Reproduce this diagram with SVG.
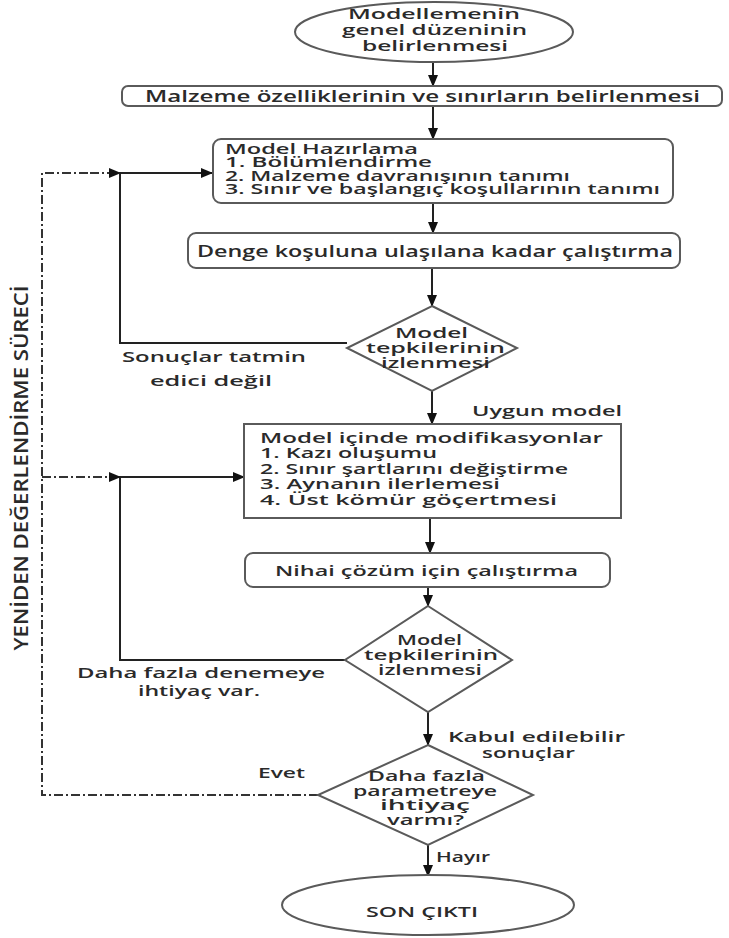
<svg xmlns="http://www.w3.org/2000/svg" width="729" height="938" viewBox="0 0 729 938">
<style>
.t{font-family:"Open Sans","DejaVu Sans",sans-serif;font-weight:600;fill:#2a2a2a;font-size:15px}
.c{text-anchor:middle}
.s14{font-size:14px}
.s16{font-size:16px}
.box{fill:#fff;stroke:#5a5a5a;stroke-width:2}
.ln{stroke:#222;stroke-width:2;fill:none}
.dd{stroke:#333;stroke-width:2;fill:none;stroke-dasharray:9 3 2 3}
</style>
<defs>
<marker id="ah" markerUnits="userSpaceOnUse" markerWidth="12" markerHeight="12" refX="11" refY="6" orient="auto">
<path d="M0,1 L12,6 L0,11 z" fill="#111"/>
</marker>
</defs>
<rect width="729" height="938" fill="#fff"/>

<g id="connectors">
<line class="ln" x1="433" y1="63" x2="433" y2="86" marker-end="url(#ah)"/>
<line class="ln" x1="433" y1="106" x2="433" y2="139" marker-end="url(#ah)"/>
<line class="ln" x1="433" y1="203" x2="433" y2="233" marker-end="url(#ah)"/>
<line class="ln" x1="432" y1="268" x2="432" y2="306" marker-end="url(#ah)"/>
<polyline class="ln" points="347,343 120,343 120,173 212,173" marker-end="url(#ah)"/>
<line class="ln" x1="432" y1="391" x2="432" y2="424" marker-end="url(#ah)"/>
<line class="ln" x1="430" y1="518" x2="430" y2="553" marker-end="url(#ah)"/>
<line class="ln" x1="428" y1="587" x2="428" y2="606" marker-end="url(#ah)"/>
<polyline class="ln" points="345,660 120,660 120,477 244,477" marker-end="url(#ah)"/>
<line class="ln" x1="428" y1="712" x2="428" y2="745" marker-end="url(#ah)"/>
<line class="ln" x1="428" y1="845" x2="428" y2="876" marker-end="url(#ah)"/>
<polyline class="dd" points="318,795 42,795 42,173 90,173"/>
<line class="dd" x1="90" y1="173" x2="120" y2="173" marker-end="url(#ah)"/>
<line class="dd" x1="42" y1="477" x2="120" y2="477" marker-end="url(#ah)"/>
</g>

<g id="n1">
<ellipse class="box" cx="434" cy="32" rx="139" ry="30"/>
<text class="t" x="348" y="19" textLength="172" lengthAdjust="spacingAndGlyphs">Modellemenin</text>
<text class="t" x="342" y="35" textLength="185" lengthAdjust="spacingAndGlyphs">genel düzeninin</text>
<text class="t" x="362" y="51" textLength="146" lengthAdjust="spacingAndGlyphs">belirlenmesi</text>
</g>

<g id="n2">
<rect class="box" x="122" y="86" width="600" height="20" rx="6"/>
<text class="t s16" x="145" y="102" textLength="555" lengthAdjust="spacingAndGlyphs">Malzeme özelliklerinin  ve sınırların belirlenmesi</text>
</g>

<g id="n3">
<rect class="box" x="213" y="139" width="460" height="64" rx="8"/>
<text class="t s14" x="225" y="154" textLength="193" lengthAdjust="spacingAndGlyphs">Model Hazırlama</text>
<text class="t s14" x="225" y="167" textLength="207" lengthAdjust="spacingAndGlyphs">1. Bölümlendirme</text>
<text class="t s14" x="225" y="181" textLength="345" lengthAdjust="spacingAndGlyphs">2. Malzeme davranışının tanımı</text>
<text class="t s14" x="225" y="194" textLength="435" lengthAdjust="spacingAndGlyphs">3. Sınır ve başlangıç koşullarının tanımı</text>
</g>

<g id="n4">
<rect class="box" x="188" y="233" width="492" height="35" rx="8"/>
<text class="t s16" x="197" y="257" textLength="476" lengthAdjust="spacingAndGlyphs">Denge koşuluna ulaşılana kadar çalıştırma</text>
</g>

<g id="n5">
<polygon class="box" points="432,306 517,348 432,391 347,348"/>
<text class="t" x="395" y="338" textLength="73" lengthAdjust="spacingAndGlyphs">Model</text>
<text class="t" x="366" y="353" textLength="139" lengthAdjust="spacingAndGlyphs">tepkilerinin</text>
<text class="t" x="381" y="368" textLength="109" lengthAdjust="spacingAndGlyphs">izlenmesi</text>
</g>

<text class="t" x="122" y="362" textLength="184" lengthAdjust="spacingAndGlyphs">Sonuçlar tatmin</text>
<text class="t" x="150" y="386" textLength="122" lengthAdjust="spacingAndGlyphs">edici değil</text>
<text class="t" x="472" y="416" textLength="150" lengthAdjust="spacingAndGlyphs">Uygun model</text>

<g id="n6">
<rect class="box" x="244" y="424" width="377" height="94"/>
<text class="t" x="260" y="443" textLength="343" lengthAdjust="spacingAndGlyphs">Model içinde modifikasyonlar</text>
<text class="t" x="260" y="458" textLength="177" lengthAdjust="spacingAndGlyphs">1. Kazı oluşumu</text>
<text class="t" x="260" y="474" textLength="308" lengthAdjust="spacingAndGlyphs">2. Sınır şartlarını değiştirme</text>
<text class="t" x="260" y="489" textLength="240" lengthAdjust="spacingAndGlyphs">3. Aynanın ilerlemesi</text>
<text class="t" x="260" y="505" textLength="297" lengthAdjust="spacingAndGlyphs">4. Üst kömür göçertmesi</text>
</g>

<g id="n7">
<rect class="box" x="245" y="553" width="365" height="34" rx="8"/>
<text class="t" x="275" y="576" textLength="303" lengthAdjust="spacingAndGlyphs">Nihai çözüm için çalıştırma</text>
</g>

<g id="n8">
<polygon class="box" points="428,606 512,660 428,712 345,660"/>
<text class="t" x="397" y="645" textLength="65" lengthAdjust="spacingAndGlyphs">Model</text>
<text class="t" x="364" y="660" textLength="134" lengthAdjust="spacingAndGlyphs">tepkilerinin</text>
<text class="t" x="378" y="675" textLength="104" lengthAdjust="spacingAndGlyphs">izlenmesi</text>
</g>

<text class="t" x="77" y="678" textLength="248" lengthAdjust="spacingAndGlyphs">Daha fazla denemeye</text>
<text class="t" x="138" y="696" textLength="122" lengthAdjust="spacingAndGlyphs">ihtiyaç var.</text>
<text class="t" x="448" y="742" textLength="177" lengthAdjust="spacingAndGlyphs">Kabul edilebilir</text>
<text class="t" x="482" y="758" textLength="93" lengthAdjust="spacingAndGlyphs">sonuçlar</text>

<g id="n9">
<polygon class="box" points="428,745 533,795 428,845 318,795"/>
<text class="t s14" x="368" y="781" textLength="117" lengthAdjust="spacingAndGlyphs">Daha fazla</text>
<text class="t s14" x="353" y="796" textLength="144" lengthAdjust="spacingAndGlyphs">parametreye</text>
<text class="t s14" x="380" y="810" textLength="90" lengthAdjust="spacingAndGlyphs">ihtiyaç</text>
<text class="t s14" x="387" y="825" textLength="77" lengthAdjust="spacingAndGlyphs">varmı?</text>
</g>

<text class="t" x="258" y="778" textLength="47" lengthAdjust="spacingAndGlyphs">Evet</text>
<text class="t" x="436" y="862" textLength="54" lengthAdjust="spacingAndGlyphs">Hayır</text>

<g id="n10">
<ellipse class="box" cx="428" cy="905" rx="146" ry="30"/>
<text class="t" x="366" y="917" textLength="112" lengthAdjust="spacingAndGlyphs">SON ÇIKTI</text>
</g>

<text class="t c" transform="translate(28,468) rotate(-90)" style="font-size:19px" textLength="365" lengthAdjust="spacingAndGlyphs">YENİDEN DEĞERLENDİRME SÜRECİ</text>
</svg>
